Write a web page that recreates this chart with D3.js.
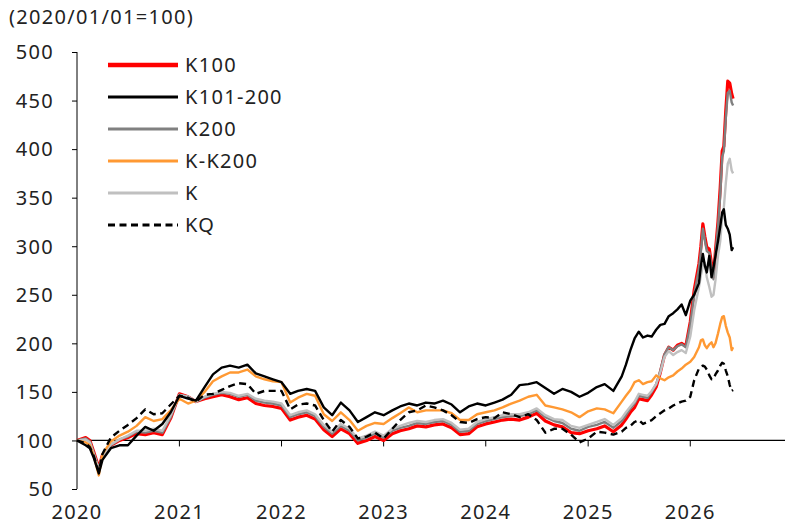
<!DOCTYPE html>
<html><head><meta charset="utf-8">
<script src="https://cdn.jsdelivr.net/npm/d3@7"></script>
<style>
body{margin:0;background:#fff;}
text{font-family:"Noto Sans",sans-serif;fill:#222;}
</style></head>
<body><svg id="c" width="785" height="527"></svg>
<script>
const dates = ["2020-01-01","2020-02-01","2020-02-16","2020-03-01","2020-03-19","2020-04-01","2020-05-01","2020-06-01","2020-07-01","2020-08-01","2020-09-01","2020-10-01","2020-11-01","2020-12-01",
"2021-01-01","2021-02-01","2021-03-01","2021-04-01","2021-05-01","2021-06-01","2021-07-01","2021-08-01","2021-09-01","2021-10-01","2021-11-01","2021-12-01",
"2022-01-01","2022-02-01","2022-03-01","2022-04-01","2022-05-01","2022-06-01","2022-07-01","2022-08-01","2022-09-01","2022-10-01","2022-11-01","2022-12-01",
"2023-01-01","2023-02-01","2023-03-01","2023-04-01","2023-05-01","2023-06-01","2023-07-01","2023-08-01","2023-09-01","2023-10-01","2023-11-01","2023-12-01",
"2024-01-01","2024-02-01","2024-03-01","2024-04-01","2024-05-01","2024-06-01","2024-07-01","2024-08-01","2024-09-01","2024-10-01","2024-11-01","2024-12-01",
"2025-01-01","2025-02-01","2025-03-01","2025-04-01","2025-05-01","2025-05-16","2025-06-01","2025-06-16","2025-07-01","2025-07-16","2025-08-01","2025-08-16","2025-09-01","2025-09-16","2025-10-01","2025-10-16","2025-11-01","2025-11-16","2025-12-01","2025-12-16",
"2026-01-01","2026-01-15","2026-02-01","2026-02-08","2026-02-15","2026-02-22","2026-03-01","2026-03-10","2026-03-18","2026-03-25","2026-04-01","2026-04-10","2026-04-18","2026-04-25","2026-05-01","2026-05-08","2026-05-15","2026-05-22","2026-05-29","2026-06-03"];

const k100 = [100,103,100,88,72,85,95,100,103,107,106,108,106,123,
148,145,140,143,145,147,145,142,144,138,136,135,
133,121,124,126,122,111,104,112,107,97,100,104,
100,107,110,112,115,114,116,117,113,106,107,114,
117,119,121,122,121,124,128,120,116,114,108,107,
110,112,115,109,116,122,129,134,143,142,141,147,155,170,188,196,193,198,200,197,
222,255,282,300,323,310,299,297,282,268,295,325,360,398,403,440,470,468,457,452];

const k101_200 = [100,95,92,82,66,80,92,95,95,105,114,110,117,129,
146,143,141,155,168,175,177,175,178,169,166,163,
160,148,151,153,151,134,126,139,131,119,124,129,
126,131,135,138,136,139,138,141,137,129,135,138,
136,139,142,147,157,158,160,154,148,153,150,145,
149,155,158,151,166,178,193,205,212,206,208,207,214,219,220,228,231,235,240,229,
244,250,262,280,292,280,273,290,268,278,290,305,320,335,338,322,318,312,296,299];

const k200 = [100,102,99,87,71,84,95,101,104,109,108,110,108,124,
147,145,140,144,147,149,148,145,147,141,139,138,
136,124,127,129,125,114,107,115,110,100,103,107,
103,110,113,115,118,117,119,120,116,109,110,117,
120,122,124,125,125,127,131,124,120,118,112,110,
114,116,119,113,120,126,133,138,146,145,144,150,158,172,189,196,193,197,199,196,
219,250,277,295,318,306,295,293,278,266,292,320,352,392,398,432,458,460,448,445];

const kk200 = [100,98,95,84,64,86,99,105,109,115,124,120,122,131,
143,138,141,150,161,166,170,170,173,166,163,161,
160,139,144,148,146,127,120,129,121,110,115,118,
117,123,128,134,129,131,131,131,128,121,121,127,
129,131,134,138,141,145,147,136,134,132,129,124,
130,133,132,128,140,146,152,160,162,158,160,161,167,164,162,165,167,171,174,178,
181,186,196,203,204,198,195,199,201,196,200,210,220,227,228,218,211,206,193,196];

const kAll = [100,101,98,86,70,84,96,101,105,110,110,112,110,126,
147,145,140,145,148,150,149,146,148,143,141,140,
138,126,129,131,127,116,109,117,112,102,105,109,
105,112,115,118,120,119,121,122,118,111,112,119,
122,124,126,127,127,129,133,126,122,121,115,113,
116,119,122,116,123,129,135,140,148,147,146,151,158,170,186,192,188,191,193,190,
207,234,258,270,280,283,268,258,248,250,265,290,305,330,340,365,385,390,378,375];

const kq = [100,97,93,84,68,86,103,110,116,123,132,127,128,137,
146,144,140,147,148,152,156,159,158,148,151,151,
151,132,137,138,136,121,109,121,114,102,104,108,
102,112,121,129,131,136,134,131,126,119,118,122,
124,123,129,127,124,127,121,108,112,112,106,98,
102,109,108,106,109,113,115,119,121,117,119,121,125,128,131,133,136,138,140,141,
145,162,174,176,177,176,173,167,163,163,168,172,177,180,179,172,166,157,151,152];

const yTicks = [50,100,150,200,250,300,350,400,450,500];
const xTickYears = [2020,2021,2022,2023,2024,2025,2026];
const title = "(2020/01/01=100)";

const series = [
  {name:"K100", values:k100, color:"#ff0000", width:3.2, lw:4.5, dash:null},
  {name:"K101-200", values:k101_200, color:"#000000", width:2.4, lw:3, dash:null},
  {name:"K200", values:k200, color:"#808080", width:2.4, lw:3, dash:null},
  {name:"K-K200", values:kk200, color:"#ff9933", width:2.4, lw:3, dash:null},
  {name:"K", values:kAll, color:"#c0c0c0", width:2.4, lw:3, dash:null},
  {name:"KQ", values:kq, color:"#000000", width:2.4, lw:3, dash:"7,4.5"}
];
const drawOrder = ["K100","K200","K","K-K200","K101-200","KQ"];

const svg = d3.select("#c");
const parse = d3.timeParse("%Y-%m-%d");
const xd = dates.map(parse);

const x = d3.scaleTime().domain([new Date(2020,0,1), new Date(2027,0,1)]).range([77, 792.4]);
const y = d3.scaleLinear().domain([50,500]).range([489,52]);

// title
svg.append("text").attr("x",9).attr("y",24).style("font-size","20px").style("letter-spacing","1.3px").text(title);

// y axis
const yAxis = d3.axisLeft(y).tickValues(yTicks).tickSize(5).tickPadding(4).tickFormat(d3.format("d"));
const gy = svg.append("g").attr("transform","translate(77,0)").call(yAxis);
gy.select(".domain").attr("stroke","#000").attr("d","M0,52V489");
gy.selectAll(".tick line").attr("stroke","#000");
gy.selectAll(".tick text").style("font-size","20px").style("letter-spacing","1.3px").attr("fill","#222").attr("x",-23).attr("dy","0.34em");

// x axis along value 100
const y100 = y(100);
svg.append("line").attr("x1",77).attr("x2",785).attr("y1",y100).attr("y2",y100).attr("stroke","#000").attr("stroke-width",1.2);
const gx = svg.append("g");
xTickYears.slice(1).forEach(yr=>{
  gx.append("line").attr("x1",x(new Date(yr,0,1))).attr("x2",x(new Date(yr,0,1))).attr("y1",y100).attr("y2",y100+6).attr("stroke","#000");
});
xTickYears.forEach(yr=>{
  svg.append("text").attr("x",x(new Date(yr,0,1))).attr("y",519).attr("text-anchor","middle")
    .style("font-size","20px").style("letter-spacing","1.3px").text(yr);
});

// lines
const line = d3.line().x((d,i)=>x(xd[i])).y(d=>y(d));
drawOrder.forEach(n=>{
  const s = series.find(t=>t.name===n);
  const p = svg.append("path").datum(s.values).attr("d",line).attr("fill","none")
    .attr("stroke",s.color).attr("stroke-width",s.width).attr("stroke-linejoin","round");
  if(s.dash) p.attr("stroke-dasharray",s.dash);
});

// legend
series.forEach((s,i)=>{
  const ly = 65 + i*32;
  const l = svg.append("line").attr("x1",108).attr("x2",178).attr("y1",ly).attr("y2",ly)
    .attr("stroke",s.color).attr("stroke-width",s.lw);
  if(s.dash) l.attr("stroke-dasharray","7,4.5");
  svg.append("text").attr("x",185).attr("y",ly).attr("dy","0.36em").style("font-size","20px").style("letter-spacing","1.3px").text(s.name);
});
</script></body></html>
